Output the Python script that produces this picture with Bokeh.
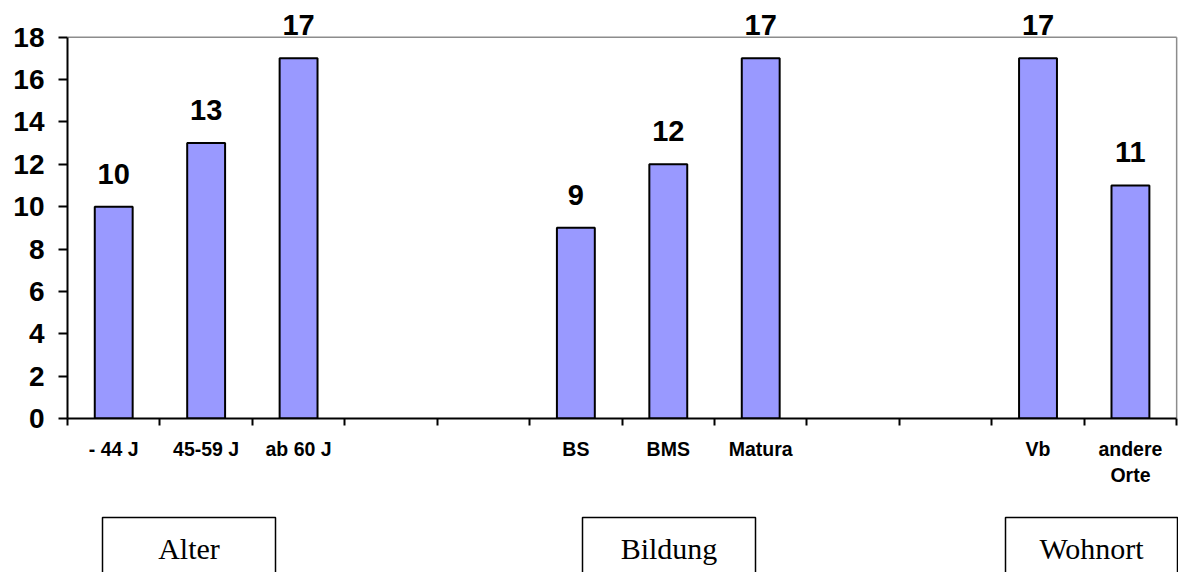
from bokeh.plotting import figure
from bokeh.models import ColumnDataSource, FixedTicker, LabelSet, Range1d
from bokeh.layouts import column
from bokeh.embed import file_html
from bokeh.resources import INLINE
from bokeh.core.properties import value

# Survey results per group
age_labels = ["- 44 J", "45-59 J", "ab 60 J"]
age_values = [10, 13, 17]
edu_labels = ["BS", "BMS", "Matura"]
edu_values = [9, 12, 17]
home_labels = ["Vb", "andere\nOrte"]
home_values = [17, 11]
group_titles = ["Alter", "Bildung", "Wohnort"]
y_ticks = [0, 2, 4, 6, 8, 10, 12, 14, 16, 18]

SANS = "Liberation Sans"
SERIF = "Liberation Serif"
GAP_SLOTS = 2  # empty slots between groups
Y_MAX = 18

# Lay the groups out on a single slot axis
slot_labels, slot_values = [], []
for i, (labels, vals) in enumerate([(age_labels, age_values),
                                     (edu_labels, edu_values),
                                     (home_labels, home_values)]):
    if i:
        slot_labels += [""] * GAP_SLOTS
        slot_values += [None] * GAP_SLOTS
    slot_labels += labels
    slot_values += vals
n_slots = len(slot_labels)

bar_x = [i + 0.5 for i, v in enumerate(slot_values) if v is not None]
bar_y = [v for v in slot_values if v is not None]
src = ColumnDataSource(data=dict(x=bar_x, y=bar_y, txt=[str(v) for v in bar_y]))

# The frame reaches above 18 so that value labels over the tallest bars stay visible
p = figure(width=1178, height=500, output_backend="svg", toolbar_location=None,
           x_range=Range1d(0, n_slots + 0.02), y_range=Range1d(0, 19.73),
           min_border_left=67, min_border_right=0, min_border_top=0,
           min_border_bottom=82)
p.grid.visible = False
p.outline_line_color = None
p.background_fill_color = "white"
p.border_fill_color = "white"

# Grey plot-area border on top and right
p.segment(x0=[0, n_slots], y0=[Y_MAX, 0], x1=[n_slots, n_slots], y1=[Y_MAX, Y_MAX],
          line_color="#8c8c8c", line_width=1.5)

p.vbar(x="x", top="y", width=0.41, source=src, fill_color="#9999FF",
       line_color="black", line_width=2)

p.add_layout(LabelSet(x="x", y="y", text="txt", source=src, y_offset=23,
                      text_align="center", text_baseline="alphabetic",
                      text_font=value(SANS), text_font_style="bold",
                      text_font_size="29px", text_color="black"))

# y axis
p.yaxis.ticker = FixedTicker(ticks=y_ticks)
p.yaxis.bounds = (0, Y_MAX)
p.yaxis.axis_line_color = "black"
p.yaxis.axis_line_width = 2
p.yaxis.major_tick_line_color = "black"
p.yaxis.major_tick_line_width = 2
p.yaxis.major_tick_in = 0
p.yaxis.major_tick_out = 9
p.yaxis.minor_tick_line_color = None
p.yaxis.major_label_standoff = 14
p.yaxis.major_label_text_font = SANS
p.yaxis.major_label_text_font_style = "bold"
p.yaxis.major_label_text_font_size = "28px"
p.yaxis.major_label_text_color = "black"

# x axis: labels at slot centres, tick marks at slot boundaries
p.xaxis.ticker = FixedTicker(ticks=[i + 0.5 for i in range(n_slots)],
                             minor_ticks=list(range(n_slots + 1)))
p.xaxis.major_label_overrides = {i + 0.5: lab for i, lab in enumerate(slot_labels)}
p.xaxis.bounds = (0, n_slots)
p.xaxis.axis_line_color = "black"
p.xaxis.axis_line_width = 2
p.xaxis.major_tick_line_color = None
p.xaxis.major_tick_in = 0
p.xaxis.major_tick_out = 0
p.xaxis.minor_tick_line_color = "black"
p.xaxis.minor_tick_line_width = 2
p.xaxis.minor_tick_in = 0
p.xaxis.minor_tick_out = 7
p.xaxis.major_label_standoff = 12
p.xaxis.major_label_text_font = SANS
p.xaxis.major_label_text_font_style = "bold"
p.xaxis.major_label_text_font_size = "19.5px"
p.xaxis.major_label_text_color = "black"

# Group caption boxes below the chart, in page pixel coordinates
box_left = [102, 582, 1005]
box_right = [275, 755, 1177]
q = figure(width=1178, height=72, output_backend="svg", toolbar_location=None,
           x_range=Range1d(67, 1178), y_range=Range1d(572, 500),
           min_border_left=67, min_border_right=0, min_border_top=0,
           min_border_bottom=0, x_axis_location=None, y_axis_location=None)
q.grid.visible = False
q.outline_line_color = None
q.border_fill_color = "white"
q.quad(left=box_left, right=box_right, top=[517] * 3, bottom=[580] * 3,
       fill_color="white", line_color="black", line_width=1.5)
q.text(x=[(a + b) / 2 for a, b in zip(box_left, box_right)], y=[548] * 3,
       text=group_titles, text_align="center", text_baseline="middle",
       text_font=value(SERIF), text_font_size="30px", text_color="black")

layout = column(p, q, spacing=0)
open("out.html", "w").write(file_html(layout, INLINE))
